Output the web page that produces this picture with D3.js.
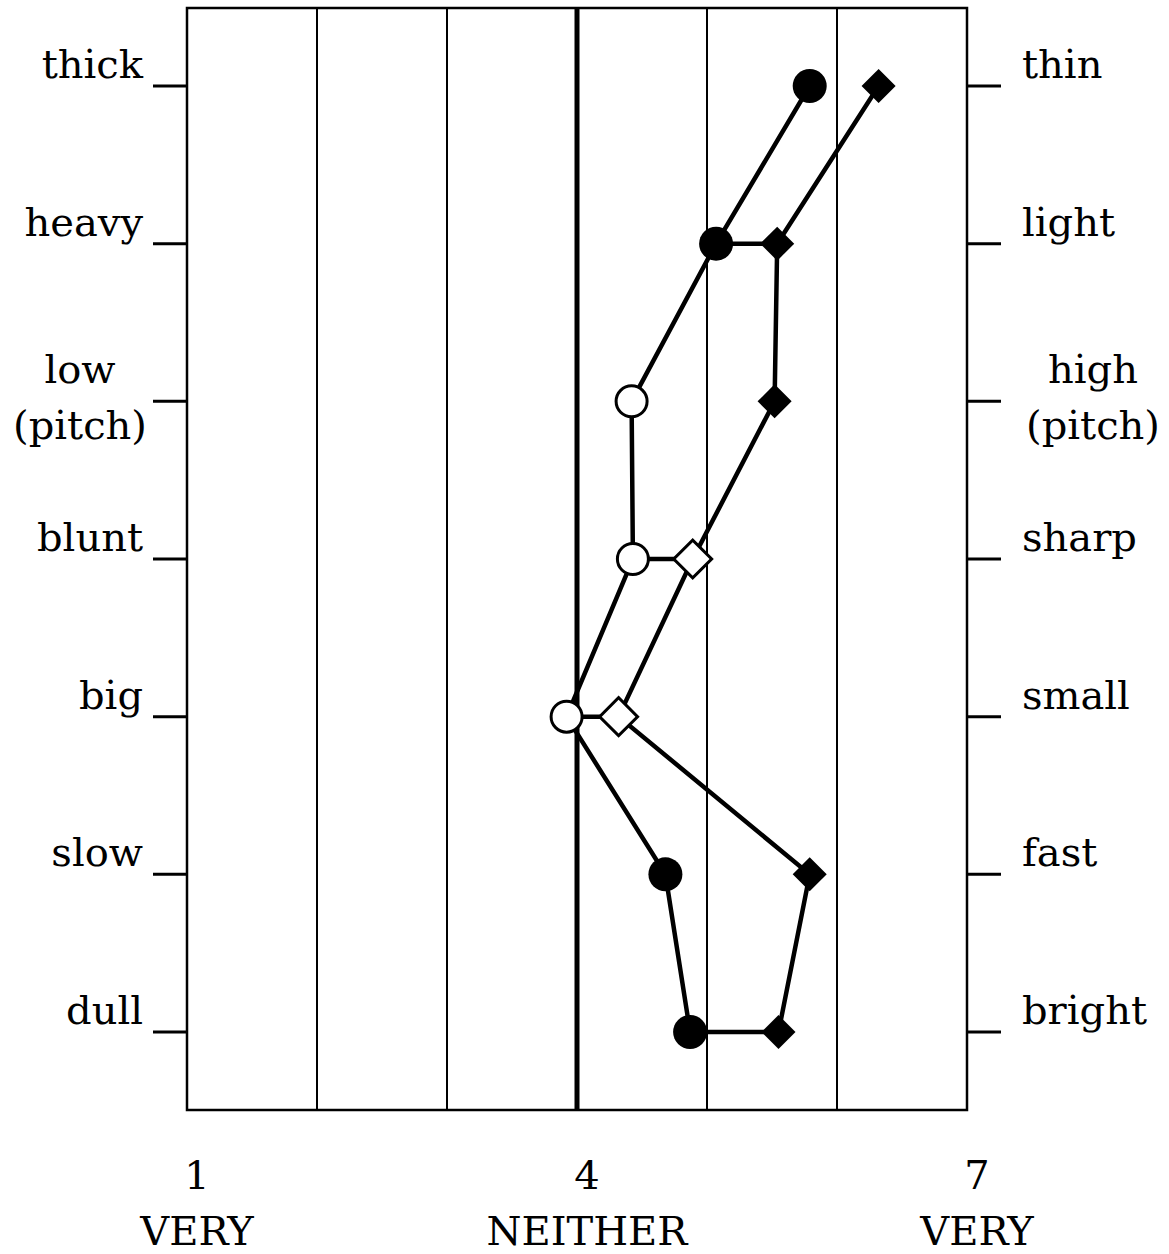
<!DOCTYPE html>
<html lang="en">
<head>
<meta charset="UTF-8">
<title>semantic differential</title>
<script src="https://d3js.org/d3.v7.min.js"></script>
<style>
  body{margin:0;background:#fff;}
  text{font-family:"DejaVu Serif",serif;font-size:40px;fill:#000;}
</style>
</head>
<body>
<svg></svg>
<script>
// scale poles, one row each
var leftWords  = ["thick","heavy","low\n(pitch)","blunt","big","slow","dull"];
var rightWords = ["thin","light","high\n(pitch)","sharp","small","fast","bright"];
// circle series (first group) and diamond series (second group)
var circleVals   = [5.79, 5.07, 4.42, 4.43, 3.92, 4.68, 4.87];
var circleFilled = [1, 1, 0, 0, 0, 1, 1];
var diamondVals   = [6.32, 5.54, 5.52, 4.89, 4.32, 5.79, 5.55];
var diamondFilled = [1, 1, 1, 0, 0, 1, 1];
// rows where the two groups are joined by a horizontal bar
var joined = [0, 1, 0, 1, 1, 0, 1];
// bottom axis
var tickVals   = [1, 4, 7];
var tickWords  = ["VERY", "NEITHER", "VERY"];
var gridVals   = [2, 3, 4, 5, 6];

var W = 1169, H = 1254;
var svg = d3.select("svg").attr("width", W).attr("height", H);

var x = d3.scaleLinear().domain([1, 7]).range([187, 967]);
var y = d3.scalePoint().domain(d3.range(leftWords.length)).range([86, 1032]);
var boxTop = 8, boxBottom = 1110;

// frame + vertical lines
svg.append("rect")
    .attr("x", x(1)).attr("y", boxTop)
    .attr("width", x(7) - x(1)).attr("height", boxBottom - boxTop)
    .attr("fill", "none").attr("stroke", "#000").attr("stroke-width", 2.5);
svg.append("g").selectAll("line")
    .data(gridVals).enter().append("line")
    .attr("x1", function(d){return x(d);}).attr("x2", function(d){return x(d);})
    .attr("y1", boxTop).attr("y2", boxBottom)
    .attr("stroke", "#000")
    .attr("stroke-width", function(d){return d === 4 ? 5 : 2;});

// side ticks
var rows = d3.range(leftWords.length);
svg.append("g").selectAll("line").data(rows).enter().append("line")
    .attr("x1", x(1) - 34).attr("x2", x(1))
    .attr("y1", function(d){return y(d);}).attr("y2", function(d){return y(d);})
    .attr("stroke", "#000").attr("stroke-width", 3);
svg.append("g").selectAll("line").data(rows).enter().append("line")
    .attr("x1", x(7)).attr("x2", x(7) + 34)
    .attr("y1", function(d){return y(d);}).attr("y2", function(d){return y(d);})
    .attr("stroke", "#000").attr("stroke-width", 3);

// side labels
function sideLabel(words, anchorX, centerX, anchor){
    svg.append("g").selectAll("text").data(words).enter().append("text")
        .each(function(w, i){
            var t = d3.select(this);
            var parts = w.split("\n");
            if(parts.length > 1){
                t.attr("text-anchor", "middle");
                t.append("tspan").attr("x", centerX).attr("y", y(i) - 18).text(parts[0]);
                t.append("tspan").attr("x", centerX).attr("y", y(i) + 38).text(parts[1]);
            }else{
                t.attr("text-anchor", anchor)
                    .attr("x", anchorX).attr("y", y(i) - 8).text(w);
            }
        });
}
sideLabel(leftWords, x(1) - 44, 80, "end");
sideLabel(rightWords, x(7) + 55, 1093, "start");

// bottom labels
svg.append("g").selectAll("text").data(tickVals).enter().append("text")
    .attr("text-anchor", "middle")
    .attr("x", function(d){return x(d) + 10;}).attr("y", 1189)
    .text(function(d){return d;});
svg.append("g").selectAll("text").data(tickWords).enter().append("text")
    .attr("text-anchor", "middle")
    .attr("x", function(d, i){return x(tickVals[i]) + 10;}).attr("y", 1245)
    .text(function(d){return d;});

// connecting lines
var line = d3.line()
    .x(function(d){return x(d[0]);})
    .y(function(d){return y(d[1]);});
var lines = svg.append("g").attr("fill", "none").attr("stroke", "#000").attr("stroke-width", 4.5);
lines.append("path").attr("d", line(circleVals.map(function(v, i){return [v, i];})));
lines.append("path").attr("d", line(diamondVals.map(function(v, i){return [v, i];})));
lines.selectAll("line.join").data(rows.filter(function(i){return joined[i];}))
    .enter().append("line")
    .attr("x1", function(i){return x(circleVals[i]);})
    .attr("x2", function(i){return x(diamondVals[i]);})
    .attr("y1", function(i){return y(i);}).attr("y2", function(i){return y(i);});

// markers
svg.append("g").selectAll("circle").data(circleVals).enter().append("circle")
    .attr("cx", function(d){return x(d);})
    .attr("cy", function(d, i){return y(i);})
    .attr("r", function(d, i){return circleFilled[i] ? 17 : 15.5;})
    .attr("fill", function(d, i){return circleFilled[i] ? "#000" : "#fff";})
    .attr("stroke", "#000")
    .attr("stroke-width", function(d, i){return circleFilled[i] ? 0 : 3;});

var diamond = d3.symbol().type(d3.symbolSquare);
svg.append("g").selectAll("path").data(diamondVals).enter().append("path")
    .attr("d", function(d, i){return diamond.size(diamondFilled[i] ? 580 : 720)();})
    .attr("transform", function(d, i){return "translate(" + x(d) + "," + y(i) + ") rotate(45)";})
    .attr("fill", function(d, i){return diamondFilled[i] ? "#000" : "#fff";})
    .attr("stroke", "#000")
    .attr("stroke-width", function(d, i){return diamondFilled[i] ? 0 : 3;});
</script>
</body>
</html>
